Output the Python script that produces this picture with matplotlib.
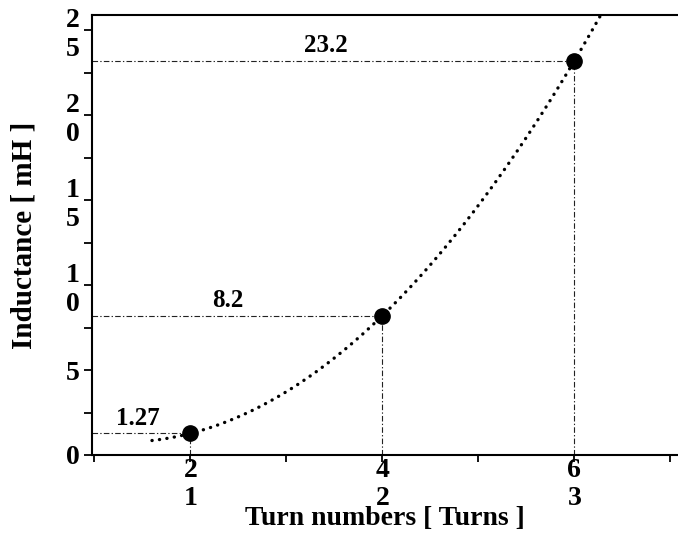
import numpy as np
import matplotlib.pyplot as plt
from matplotlib.ticker import MultipleLocator

plt.rcParams['font.family'] = ['Liberation Serif', 'DejaVu Serif']
plt.rcParams['font.weight'] = 'bold'

# measured coils
turns = [2, 4, 6]
inductance = [1.27, 8.2, 23.2]
coil_no = [1, 2, 3]
value_labels = ["1.27", "8.2", "23.2"]
label_x = [1.45, 2.39, 3.41]
y_ticks = [0, 5, 10, 15, 20, 25]

fig = plt.figure(figsize=(6.78, 5.35), dpi=100)
ax = fig.add_axes([92/678, 80/535, 586/678, 440/535])

xmin, xmax = 0.975, 7.08
ymin, ymax = 0.0, 25.9

# 2nd order trend line through the points
coef = np.polyfit(turns, inductance, 2)
xs = np.linspace(1.6, 6.4, 300)
ax.plot(xs, np.polyval(coef, xs), color='black', lw=2.4,
        linestyle=(0, (0.05, 2.2)), dash_capstyle='round', zorder=3)

# guide lines to both axes
guide = dict(color='#222222', lw=0.8, linestyle=(0, (5, 2, 1.2, 2)), zorder=2)
for t, L, txt, lx in zip(turns, inductance, value_labels, label_x):
    ax.plot([xmin, t], [L, L], **guide)
    ax.plot([t, t], [ymin, L], **guide)
    ax.text(lx, L + 0.5, txt, ha='center', va='baseline', fontsize=18,
            fontweight='bold')

ax.plot(turns, inductance, 'o', color='black', ms=11, zorder=4)

ax.set_xlim(xmin, xmax)
ax.set_ylim(ymin, ymax)

ax.set_xticks(range(1, 8))
xt = ['' for _ in range(1, 8)]
for t, n in zip(turns, coil_no):
    xt[t - 1] = f"{t}\n{n}"
ax.set_xticklabels(xt, fontsize=20, fontweight='bold', linespacing=1.15)

ax.set_yticks(y_ticks)
ax.set_yticklabels(['\n'.join(str(v)) for v in y_ticks], fontsize=20,
                   fontweight='bold', linespacing=1.2)
ax.yaxis.set_minor_locator(MultipleLocator(2.5))

ax.tick_params(axis='x', which='major', direction='out', length=5, width=1.3, pad=-3)
ax.tick_params(axis='y', which='both', direction='out', length=6, width=1.3, pad=3)

for s in ['left', 'bottom', 'top']:
    ax.spines[s].set_linewidth(1.5)
ax.spines['right'].set_visible(False)

ax.set_xlabel("Turn numbers [ Turns ]", fontsize=20, fontweight='bold', labelpad=-3)
ax.set_ylabel("Inductance [ mH ]", fontsize=21, fontweight='bold', labelpad=20)

fig.savefig("out.png", dpi=100)
